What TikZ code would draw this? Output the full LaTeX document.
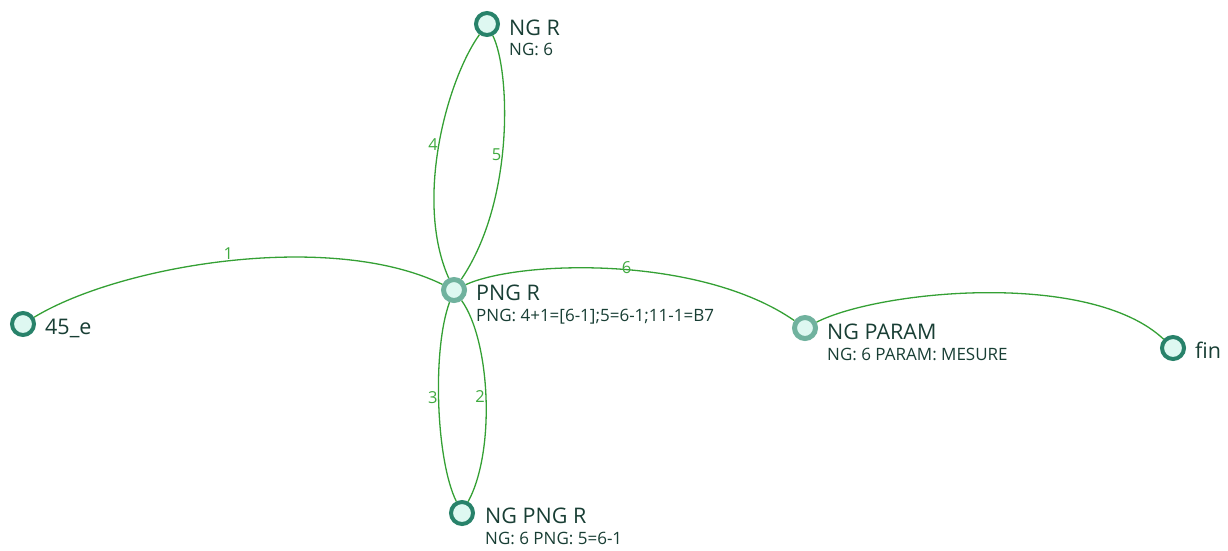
\documentclass[tikz,border=0pt]{standalone}
\usepackage{fontspec}
\setmainfont{Open Sans}
\usepackage{tikz}
\usetikzlibrary{positioning}
\definecolor{edgegreen}{RGB}{52,160,52}
\definecolor{labelgreen}{RGB}{64,170,64}
\definecolor{ringdark}{RGB}{40,130,106}
\definecolor{ringlight}{RGB}{112,178,158}
\definecolor{statefill}{RGB}{222,248,241}
\definecolor{textdark}{RGB}{24,62,52}

\begin{document}
\begin{tikzpicture}[
    x=1pt, y=-1pt,
    state/.style={circle, draw=#1, fill=statefill, line width=4pt, minimum size=22pt, inner sep=0pt},
    state/.default=ringdark,
    nodetitle/.style={anchor=base west, inner sep=0pt, text=textdark, font=\fontsize{21.5}{24}\selectfont},
    nodeinfo/.style={anchor=base west, inner sep=0pt, text=textdark, font=\fontsize{17}{20}\selectfont},
    link/.style={draw=edgegreen, line width=1.3pt},
    lbl/.style={text=labelgreen, inner sep=0.5pt, font=\fontsize{16.5}{18}\selectfont}
]
\useasboundingbox (0,0) rectangle (1228,550);

% states
\node[state] (ngr) at (487,24) {};
\node[state=ringlight, line width=5pt, minimum size=21pt] (pngr) at (454,290) {};
\node[state] (start) at (23,324) {};
\node[state=ringlight, line width=5pt, minimum size=21pt] (ngparam) at (805,328) {};
\node[state] (fin) at (1173,348) {};
\node[state] (ngpngr) at (462,513) {};

% texts
\node[nodetitle] (ngrname) at ([xshift=22pt, yshift=-11pt]ngr.center) {NG R};
\node[nodeinfo] (ngrinfo) at ([yshift=-20pt]ngrname.base west) {NG: 6};
\node[nodetitle] (pngrname) at ([xshift=22pt, yshift=-10.5pt]pngr.center) {PNG R};
\node[nodeinfo] (pngrinfo) at ([yshift=-21pt]pngrname.base west) {PNG: 4+1=[6-1];5=6-1;11-1=B7};
\node[nodetitle] (startname) at ([xshift=22pt, yshift=-10pt]start.center) {45\_e};
\node[nodetitle] (ngparamname) at ([xshift=22pt, yshift=-11pt]ngparam.center) {NG PARAM};
\node[nodeinfo] (ngparaminfo) at ([yshift=-21pt]ngparamname.base west) {NG: 6 PARAM: MESURE};
\node[nodetitle] (finname) at ([xshift=22pt, yshift=-10pt]fin.center) {fin};
\node[nodetitle] (ngpngrname) at ([xshift=23pt, yshift=-10pt]ngpngr.center) {NG PNG R};
\node[nodeinfo] (ngpngrinfo) at ([yshift=-21pt]ngpngrname.base west) {NG: 6 PNG: 5=6-1};

% transitions
\draw[link] (start) .. controls (120,265) and (330,230) .. (pngr) node[lbl, pos=0.5, anchor=south] {1};
\draw[link] (ngpngr) .. controls (496,450) and (490,340) .. (pngr) node[lbl, pos=0.5, anchor=east] {2};
\draw[link] (pngr) .. controls (432,350) and (436,460) .. (ngpngr) node[lbl, pos=0.48, anchor=east, yshift=2pt] {3};
\draw[link] (pngr) .. controls (414,200) and (447,80) .. (ngr) node[lbl, pos=0.5, anchor=east] {4};
\draw[link] (ngr) .. controls (510,70) and (515,200) .. (pngr) node[lbl, pos=0.55, anchor=east] {5};
\draw[link] (pngr) .. controls (520,260) and (700,255) .. (ngparam) node[lbl, pos=0.53, anchor=south, yshift=-5pt] {6};
\draw[link] (ngparam) .. controls (880,290) and (1090,270) .. (fin);

\end{tikzpicture}
\end{document}
